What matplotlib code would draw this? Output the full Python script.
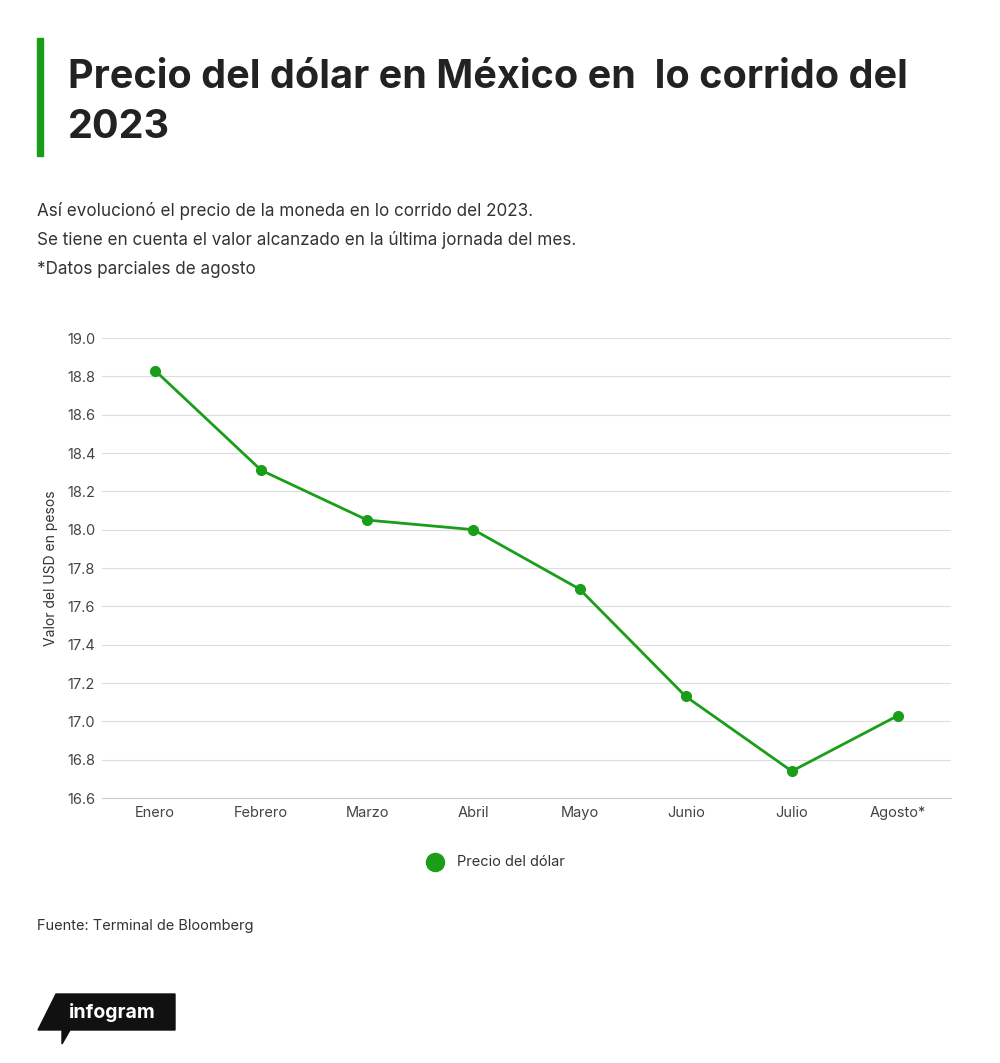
import matplotlib.pyplot as plt
from matplotlib.patches import Polygon

months = ["Enero", "Febrero", "Marzo", "Abril", "Mayo", "Junio", "Julio", "Agosto*"]
prices = [18.83, 18.31, 18.05, 18.00, 17.69, 17.13, 16.74, 17.03]
yticks = [16.6, 16.8, 17.0, 17.2, 17.4, 17.6, 17.8, 18.0, 18.2, 18.4, 18.6, 18.8, 19.0]

green = "#1a9e1a"
plt.rcParams['font.family'] = ['Inter', 'DejaVu Sans']

fig = plt.figure(figsize=(10, 10.63), dpi=100)
W, H = 1000, 1063

def fx(x): return x / W
def fy(y): return 1 - y / H

# title bar + title
fig.patches.append(plt.Rectangle((fx(37), fy(156)), 6 / W, 118 / H, color=green, transform=fig.transFigure))
fig.text(fx(68), fy(78), "Precio del dólar en México en  lo corrido del", fontsize=28.5, fontweight='bold', color='#222222', va='center')
fig.text(fx(68), fy(128), "2023", fontsize=28.5, fontweight='bold', color='#222222', va='center')

subs = ["Así evolucionó el precio de la moneda en lo corrido del 2023.",
        "Se tiene en cuenta el valor alcanzado en la última jornada del mes.",
        "*Datos parciales de agosto"]
for i, s in enumerate(subs):
    fig.text(fx(37), fy(211 + i * 29), s, fontsize=12.3, color='#333333', va='center')

ax = fig.add_axes([fx(102), fy(798), (951 - 102) / W, (798 - 338) / H])
x = list(range(len(months)))
ax.plot(x, prices, color=green, lw=2, marker='o', ms=7, zorder=3)
ax.set_xlim(-0.5, len(months) - 0.5)
ax.set_ylim(16.6, 19.0)
ax.set_yticks(yticks)
ax.set_yticklabels([f"{v:.1f}" for v in yticks], fontsize=10.5, color='#444444')
ax.set_xticks(x)
ax.set_xticklabels(months, fontsize=10.5, color='#444444')
ax.tick_params(axis='x', length=0, pad=6)
ax.tick_params(axis='y', length=0)
for lab in ax.get_yticklabels():
    lab.set_horizontalalignment('left')
ax.yaxis.set_tick_params(pad=25)
ax.grid(axis='y', color='#dddddd', lw=0.8)
for s in ['top', 'right', 'left']:
    ax.spines[s].set_visible(False)
ax.spines['bottom'].set_color('#cccccc')
ax.set_ylabel("Valor del USD en pesos", fontsize=10, color='#333333')
ax.yaxis.set_label_coords(-0.052, 0.5)

# legend
fig.add_artist(plt.Line2D([fx(435)], [fy(862)], marker='o', ms=13, color=green, transform=fig.transFigure))
fig.text(fx(457), fy(862), "Precio del dólar", fontsize=10.5, color='#333333', va='center')

fig.text(fx(37), fy(926), "Fuente: Terminal de Bloomberg", fontsize=10.5, color='#333333', va='center')

# infogram logo
poly = Polygon([(fx(56), fy(994)), (fx(175), fy(994)), (fx(175), fy(1030)),
                (fx(70), fy(1030)), (fx(62), fy(1044)), (fx(62), fy(1030)), (fx(38), fy(1030))],
               closed=True, color='#111111', transform=fig.transFigure)
fig.patches.append(poly)
fig.text(fx(112), fy(1012), "infogram", fontsize=14, color='white', va='center', ha='center', fontweight='bold')

fig.savefig("out.png", dpi=100, facecolor='white')
